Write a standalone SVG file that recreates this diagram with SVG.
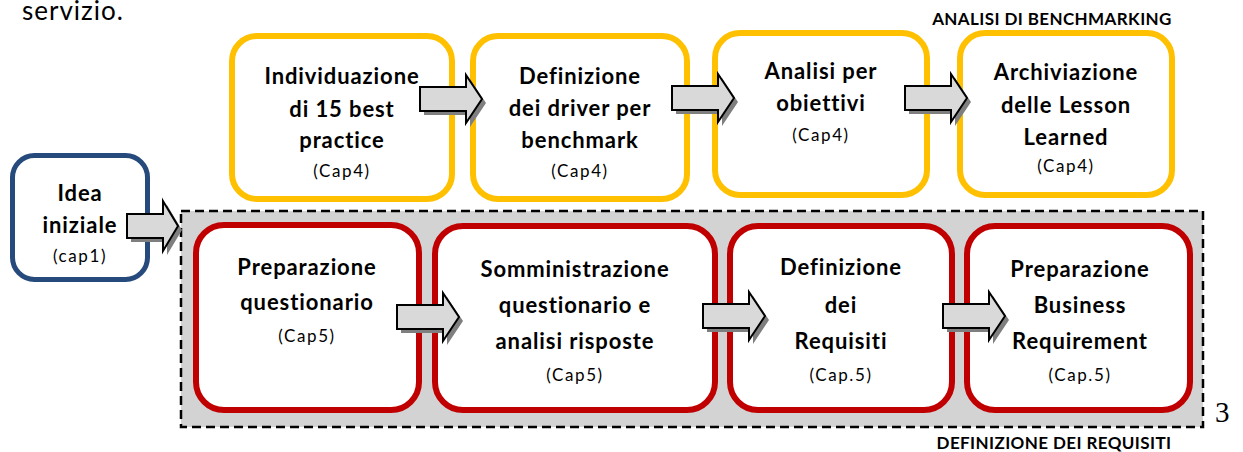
<svg xmlns="http://www.w3.org/2000/svg" xmlns:xlink="http://www.w3.org/1999/xlink" width="1243" height="452" viewBox="0 0 1243 452">
  <style>
    text { font-family: Lato, "Open Sans", "Liberation Sans", sans-serif; fill: #000; }
    .t { font-size: 22px; font-weight: bold; text-anchor: middle; letter-spacing: 0.9px; }
    .c { font-size: 17px; text-anchor: middle; letter-spacing: 1.6px; }
    .hdr { font-size: 17px; font-weight: bold; text-anchor: middle; letter-spacing: 0.4px; }
    .yb { fill: #fff; stroke: #FFC000; stroke-width: 6; }
    .rb { fill: #fff; stroke: #C00000; stroke-width: 6; }
    .bb { fill: #fff; stroke: #254A7B; stroke-width: 5; }
    .arrow { fill: #D9D9D9; stroke: #000; stroke-width: 2; stroke-linejoin: miter; }
    .shadow { fill: #7F7F7F; stroke: none; }
  </style>
  <defs>
    <path id="arr" d="M0,-12 H46 V-24 L62,0 L46,24 V12 H0 Z"/>
    <path id="arrS" d="M0,-12 H36 V-25 L51,0 L36,25 V12 H0 Z"/>
  </defs>

  <rect width="1243" height="452" fill="#fff"/>

  <!-- page fragment and section titles -->
  <text x="22" y="20" style="font-size:26px;letter-spacing:1px">servizio.</text>
  <text class="hdr" x="1052" y="25">ANALISI DI BENCHMARKING</text>
  <text class="hdr" x="1054" y="449">DEFINIZIONE DEI REQUISITI</text>
  <text x="1215" y="422" style="font-family:'Liberation Serif',serif;font-size:29px">3</text>

  <!-- requirements area -->
  <rect id="area" x="181" y="211" width="1022" height="216" fill="#D3D3D3" stroke="#000" stroke-width="2.5" stroke-dasharray="9,5"/>

  <g id="idea">
    <rect class="bb" x="12.5" y="155.5" width="135" height="124" rx="22"/>
    <text class="t" x="80" y="201">Idea</text>
    <text class="t" x="80" y="233">iniziale</text>
    <text class="c" x="80" y="262">(cap1)</text>
  </g>

  <g id="best-practice">
    <rect class="yb" x="232" y="36" width="220" height="163" rx="25"/>
    <text class="t" x="342" y="84">Individuazione</text>
    <text class="t" x="342" y="117">di 15 best</text>
    <text class="t" x="342" y="148">practice</text>
    <text class="c" x="342" y="177">(Cap4)</text>
  </g>

  <g id="driver">
    <rect class="yb" x="473" y="36" width="214" height="163" rx="25"/>
    <text class="t" x="580" y="84">Definizione</text>
    <text class="t" x="580" y="116">dei driver per</text>
    <text class="t" x="580" y="148">benchmark</text>
    <text class="c" x="580" y="177">(Cap4)</text>
  </g>

  <g id="obiettivi">
    <rect class="yb" x="715" y="33" width="212" height="162" rx="25"/>
    <text class="t" x="821" y="79">Analisi per</text>
    <text class="t" x="821" y="111">obiettivi</text>
    <text class="c" x="821" y="141">(Cap4)</text>
  </g>

  <g id="lesson">
    <rect class="yb" x="960" y="33" width="212" height="162" rx="25"/>
    <text class="t" x="1066" y="80">Archiviazione</text>
    <text class="t" x="1066" y="113">delle Lesson</text>
    <text class="t" x="1066" y="145">Learned</text>
    <text class="c" x="1066" y="172">(Cap4)</text>
  </g>

  <g id="questionario">
    <rect class="rb" x="196" y="225" width="223" height="185" rx="28"/>
    <text class="t" x="307" y="275">Preparazione</text>
    <text class="t" x="307" y="310">questionario</text>
    <text class="c" x="307" y="342">(Cap5)</text>
  </g>

  <g id="somministrazione">
    <rect class="rb" x="435" y="226" width="280" height="184" rx="28"/>
    <text class="t" x="575" y="277">Somministrazione</text>
    <text class="t" x="575" y="313">questionario e</text>
    <text class="t" x="575" y="349">analisi risposte</text>
    <text class="c" x="575" y="381">(Cap5)</text>
  </g>

  <g id="requisiti">
    <rect class="rb" x="730" y="226" width="222" height="184" rx="28"/>
    <text class="t" x="841" y="275">Definizione</text>
    <text class="t" x="841" y="313">dei</text>
    <text class="t" x="841" y="349">Requisiti</text>
    <text class="c" x="841" y="381">(Cap.5)</text>
  </g>

  <g id="business">
    <rect class="rb" x="967" y="226" width="223" height="184" rx="28"/>
    <text class="t" x="1080" y="277">Preparazione</text>
    <text class="t" x="1080" y="313">Business</text>
    <text class="t" x="1080" y="349">Requirement</text>
    <text class="c" x="1080" y="381">(Cap.5)</text>
  </g>

  <!-- block arrows with drop shadow -->
  <g id="connectors">
    <use xlink:href="#arrS" class="shadow" transform="translate(131,230)"/>
    <use xlink:href="#arrS" class="arrow" transform="translate(127,226)"/>

    <use xlink:href="#arr" class="shadow" transform="translate(424,103)"/>
    <use xlink:href="#arr" class="arrow" transform="translate(420,99)"/>
    <use xlink:href="#arr" class="shadow" transform="translate(676,102)"/>
    <use xlink:href="#arr" class="arrow" transform="translate(672,98)"/>
    <use xlink:href="#arr" class="shadow" transform="translate(909,102)"/>
    <use xlink:href="#arr" class="arrow" transform="translate(905,98)"/>

    <use xlink:href="#arr" class="shadow" transform="translate(401,321)"/>
    <use xlink:href="#arr" class="arrow" transform="translate(397,317)"/>
    <use xlink:href="#arr" class="shadow" transform="translate(707,320)"/>
    <use xlink:href="#arr" class="arrow" transform="translate(703,316)"/>
    <use xlink:href="#arr" class="shadow" transform="translate(947,320)"/>
    <use xlink:href="#arr" class="arrow" transform="translate(943,316)"/>
  </g>
</svg>
